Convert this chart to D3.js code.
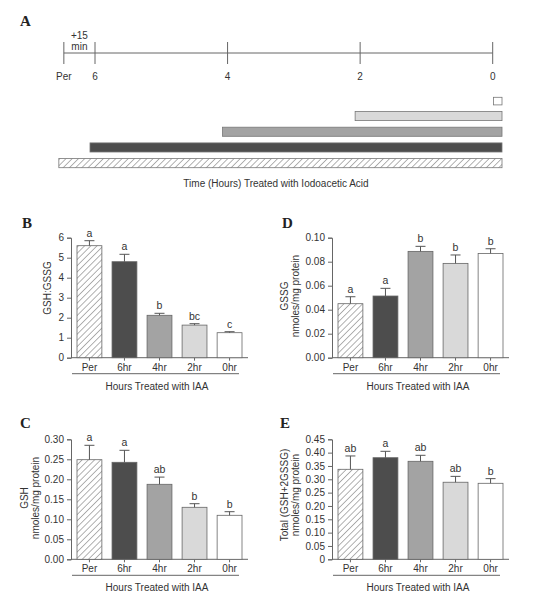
<!DOCTYPE html>
<html><head><meta charset="utf-8">
<script src="https://cdn.jsdelivr.net/npm/d3@7"></script>
<style>body{margin:0;background:#fff}</style>
</head><body>
<svg id="chart" width="544" height="600"></svg>
<script>
// ---------- data ----------
const categories = ["Per", "6hr", "4hr", "2hr", "0hr"];
const barFills = ["url(#hatch)", "#4d4d4d", "#a3a3a3", "#d9d9d9", "#ffffff"];

const ratioValues = [5.60, 4.80, 2.12, 1.63, 1.25];
const ratioErrors = [0.25, 0.37, 0.10, 0.07, 0.05];
const ratioLetters = ["a", "a", "b", "bc", "c"];
const ratioTicks = [0, 1, 2, 3, 4, 5, 6];

const gssgValues = [0.045, 0.0514, 0.0886, 0.0786, 0.0869];
const gssgErrors = [0.0058, 0.0064, 0.0042, 0.0070, 0.0039];
const gssgLetters = ["a", "a", "b", "b", "b"];
const gssgTicks = [0, 0.02, 0.04, 0.06, 0.08, 0.10];

const gshValues = [0.249, 0.2425, 0.1875, 0.130, 0.110];
const gshErrors = [0.036, 0.030, 0.018, 0.009, 0.009];
const gshLetters = ["a", "a", "ab", "b", "b"];
const gshTicks = [0, 0.05, 0.10, 0.15, 0.20, 0.25, 0.30];

const totalValues = [0.3375, 0.381, 0.3675, 0.289, 0.285];
const totalErrors = [0.050, 0.024, 0.0225, 0.022, 0.0175];
const totalLetters = ["ab", "a", "ab", "ab", "b"];
const totalTicks = [0, 0.05, 0.10, 0.15, 0.20, 0.25, 0.30, 0.35, 0.40, 0.45];

// timeline (panel A)
const timelineLabels = ["Per", "6", "4", "2", "0"];
const timelineHours = [6.47, 6, 4, 2, 0];          // Per drawn 15 min before 6 h (not to scale)
const treatmentRows = ["0hr", "2hr", "4hr", "6hr", "Per"];
const treatmentStartHours = [0, 2, 4, 6, 6.47];
const treatmentFills = ["#ffffff", "#d9d9d9", "#a3a3a3", "#4d4d4d", "url(#hatch)"];

// ---------- setup ----------
const FONT = "'Liberation Sans', Arial, Helvetica, sans-serif";
const TXT = "#333";
const AX = "#666";
const svg = d3.select("#chart");
const defs = svg.append("defs");
const pat = defs.append("pattern").attr("id", "hatch").attr("patternUnits", "userSpaceOnUse")
  .attr("width", 4.4).attr("height", 4.4).attr("patternTransform", "rotate(45)");
pat.append("rect").attr("width", 4.4).attr("height", 4.4).attr("fill", "#fff");
pat.append("line").attr("x1", 0).attr("y1", 0).attr("x2", 0).attr("y2", 4.4)
  .attr("stroke", "#666").attr("stroke-width", 1);

function panelLetter(t, x, y) {
  svg.append("text").attr("x", x).attr("y", y).text(t)
    .attr("font-family", "'Liberation Serif', 'Times New Roman', serif")
    .attr("font-weight", "bold").attr("font-size", 15).attr("fill", "#222");
}

// ---------- panel A ----------
panelLetter("A", 20, 26);
const xt = d3.scaleLinear().domain([6, 0]).range([95, 492.7]);
const ga = svg.append("g");
ga.append("line").attr("x1", xt(timelineHours[0])).attr("x2", xt(0)).attr("y1", 53).attr("y2", 53)
  .attr("stroke", AX).attr("stroke-width", 1);
timelineHours.forEach((h, i) => {
  ga.append("line").attr("x1", xt(h)).attr("x2", xt(h)).attr("y1", 42).attr("y2", 64)
    .attr("stroke", AX).attr("stroke-width", 1);
  ga.append("text").attr("x", xt(h)).attr("y", 80).attr("text-anchor", "middle")
    .attr("font-family", FONT).attr("font-size", 10).attr("fill", TXT).text(timelineLabels[i]);
});
const midPer = (xt(timelineHours[0]) + xt(6)) / 2;
ga.append("text").attr("x", midPer).attr("y", 39).attr("text-anchor", "middle")
  .attr("font-family", FONT).attr("font-size", 10).attr("fill", TXT).text("+15");
ga.append("text").attr("x", midPer).attr("y", 50).attr("text-anchor", "middle")
  .attr("font-family", FONT).attr("font-size", 10).attr("fill", TXT).text("min");

const yRow = d3.scaleBand().domain(treatmentRows).range([92.5, 171]).paddingInner(0.42).paddingOuter(0.21);
treatmentRows.forEach((r, i) => {
  const h = treatmentStartHours[i];
  const x0 = h === 0 ? xt(0) + 0.8 : xt(h) - 5;
  const bh = h === 0 ? yRow.bandwidth() - 1.5 : yRow.bandwidth();
  ga.append("rect").attr("x", x0).attr("y", yRow(r) + (yRow.bandwidth() - bh))
    .attr("width", xt(0) + 9.3 - x0).attr("height", bh)
    .attr("fill", treatmentFills[i]).attr("stroke", "#777").attr("stroke-width", 0.8);
});
ga.append("text").attr("x", 276).attr("y", 187).attr("text-anchor", "middle")
  .attr("font-family", FONT).attr("font-size", 10).attr("fill", TXT)
  .text("Time (Hours) Treated with Iodoacetic Acid");

// ---------- bar panels ----------
function barPanel(o) {
  const g = svg.append("g");
  const y = d3.scaleLinear().domain([0, o.ticks[o.ticks.length - 1]]).range([o.bottom, o.top]);
  const x = d3.scaleBand().domain(categories).range([o.axisX + 6, o.axisX + 171]).paddingInner(0.29).paddingOuter(0);
  // y axis
  const yAxis = d3.axisLeft(y).tickValues(o.ticks).tickSize(4).tickPadding(3).tickFormat(o.fmt);
  const ya = g.append("g").attr("transform", `translate(${o.axisX},0)`).call(yAxis);
  ya.select(".domain").attr("stroke", AX);
  ya.selectAll(".tick line").attr("stroke", AX);
  ya.selectAll("text").attr("font-family", FONT).attr("font-size", 10).attr("fill", TXT);
  // x axis
  const xAxis = d3.axisBottom(x).tickSize(3).tickSizeOuter(0).tickFormat(d => d).tickPadding(3);
  const xa = g.append("g").attr("transform", `translate(0,${o.bottom})`).call(xAxis);
  xa.select(".domain").attr("stroke", AX).attr("d", `M${o.axisX},0H${o.axisX + 177}`);
  xa.selectAll(".tick line").attr("stroke", AX);
  xa.selectAll("text").attr("font-family", FONT).attr("font-size", 10).attr("fill", TXT);
  // bars
  g.selectAll("rect.bar").data(o.values).join("rect").attr("class", "bar")
    .attr("x", (d, i) => x(categories[i])).attr("width", x.bandwidth())
    .attr("y", d => y(d)).attr("height", d => y(0) - y(d))
    .attr("fill", (d, i) => barFills[i]).attr("stroke", "#666").attr("stroke-width", 0.8);
  // error bars
  o.values.forEach((v, i) => {
    const cx = x(categories[i]) + x.bandwidth() / 2;
    const ty = y(v + o.errors[i]);
    g.append("line").attr("x1", cx).attr("x2", cx).attr("y1", y(v)).attr("y2", ty).attr("stroke", "#555");
    g.append("line").attr("x1", cx - 5).attr("x2", cx + 5).attr("y1", ty).attr("y2", ty).attr("stroke", "#555");
    g.append("text").attr("x", cx).attr("y", ty - 4).attr("text-anchor", "middle")
      .attr("font-family", FONT).attr("font-size", 10.5).attr("fill", TXT).text(o.letters[i]);
  });
  // group line and title
  g.append("line").attr("x1", o.axisX + 1).attr("x2", o.axisX + 168)
    .attr("y1", o.bottom + 16).attr("y2", o.bottom + 16).attr("stroke", AX);
  g.append("text").attr("x", o.axisX + 86).attr("y", o.bottom + 32).attr("text-anchor", "middle")
    .attr("font-family", FONT).attr("font-size", 10).attr("fill", TXT).text("Hours Treated with IAA");
  // y labels
  o.ylabel.forEach((t, k) => {
    const lx = o.labelX[k];
    g.append("text").attr("transform", `translate(${lx},${o.labelY}) rotate(-90)`)
      .attr("text-anchor", "middle").attr("font-family", FONT).attr("font-size", 10)
      .attr("fill", TXT).text(t);
  });
}

panelLetter("B", 22, 228);
barPanel({ axisX: 71, top: 237.7, bottom: 357.7, values: ratioValues, errors: ratioErrors,
  letters: ratioLetters, ticks: ratioTicks, fmt: d3.format("d"),
  ylabel: ["GSH:GSSG"], labelX: [51], labelY: 288 });

panelLetter("D", 282, 228);
barPanel({ axisX: 332, top: 237.7, bottom: 357.7, values: gssgValues, errors: gssgErrors,
  letters: gssgLetters, ticks: gssgTicks, fmt: d3.format(".2f"),
  ylabel: ["GSSG", "nmoles/mg protein"], labelX: [287.5, 298.5], labelY: 296 });

panelLetter("C", 20, 428);
barPanel({ axisX: 71, top: 439.3, bottom: 559.3, values: gshValues, errors: gshErrors,
  letters: gshLetters, ticks: gshTicks, fmt: d3.format(".2f"),
  ylabel: ["GSH", "nmoles/mg protein"], labelX: [27.5, 38.5], labelY: 498 });

panelLetter("E", 280, 428);
barPanel({ axisX: 332, top: 439.3, bottom: 559.3, values: totalValues, errors: totalErrors,
  letters: totalLetters, ticks: totalTicks, fmt: d => d === 0 ? "0" : d3.format(".2f")(d),
  ylabel: ["Total (GSH+2GSSG)", "nmoles/mg protein"], labelX: [287.5, 298.5], labelY: 495 });
</script>
</body></html>
